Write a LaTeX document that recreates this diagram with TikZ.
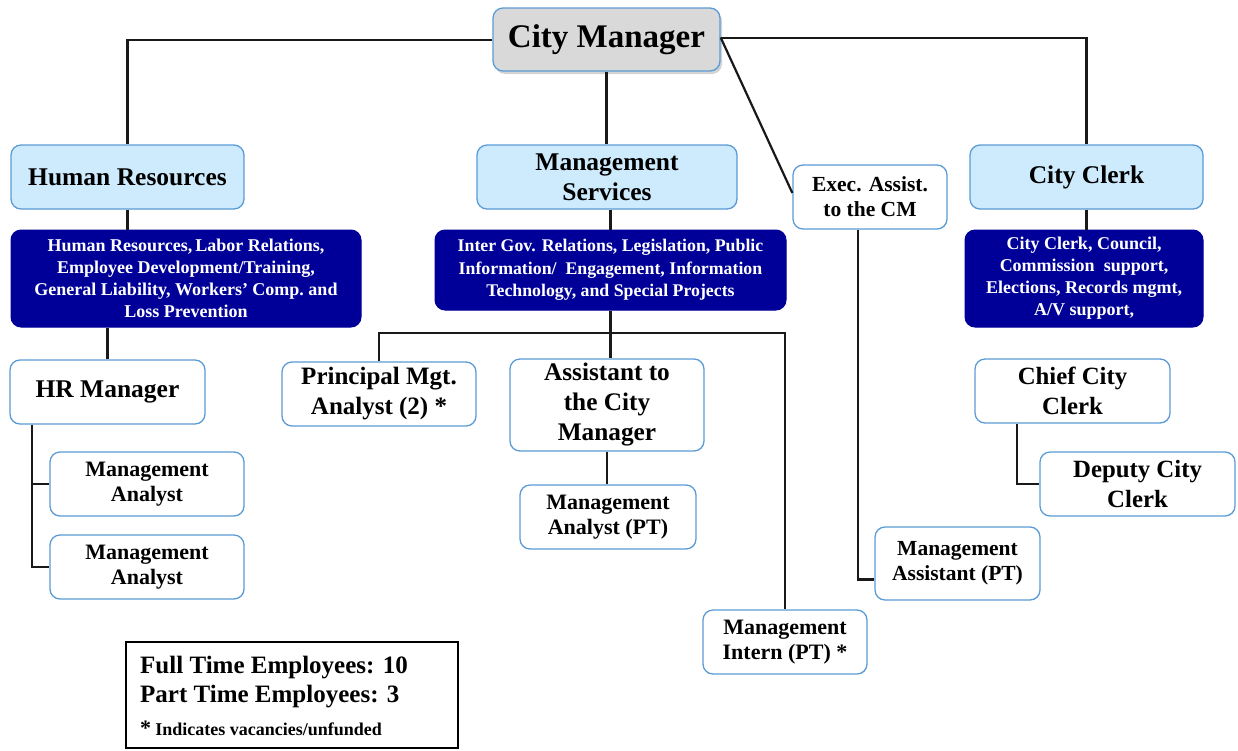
\documentclass[tikz,border=0pt]{standalone}
\usepackage{fontspec}
\setmainfont{Liberation Serif}
\usetikzlibrary{calc,shadows}
\definecolor{bordblue}{HTML}{5B9BD5}
\definecolor{lightfill}{HTML}{CDEBFD}
\definecolor{cmgray}{HTML}{D9D9D9}
\definecolor{navy}{HTML}{000099}
\tikzset{
  base/.style={rounded corners=10, align=center, inner sep=0pt, font=\bfseries},
  wbox/.style={base, draw=bordblue, line width=1.3, fill=white},
  lbox/.style={base, draw=bordblue, line width=1.3, fill=lightfill},
  dbox/.style={base, draw=navy, line width=1, fill=navy, text=white},
  conn/.style={draw=black!90, line width=2.2},
  fs/.style 2 args={font=\bfseries\fontsize{#1}{#2}\selectfont},
}
\begin{document}
\begin{tikzpicture}[x=1pt,y=-1pt]
\useasboundingbox (0,0) rectangle (1238,750);

% top level
\node[base, draw=bordblue, line width=1.3, fill=cmgray, drop shadow={shadow xshift=2pt, shadow yshift=-3pt, opacity=0.35},
      minimum width=227, minimum height=63, fs={33}{36}] (cm) at (606.5,39.5) {City Manager};

% second level
\node[lbox, minimum width=233, minimum height=64, fs={25.5}{30}] (hr) at (127.5,177) {Human Resources};
\node[lbox, minimum width=260, minimum height=64, fs={25.5}{30}] (ms) at (607,177) {Management\\Services};
\node[wbox, minimum width=154, minimum height=64, fs={21.5}{25}] (ea) at (870,197) {Exec. Assist.\\to the CM};
\node[lbox, minimum width=233, minimum height=64, fs={25.5}{30}] (cc) at (1086.5,177) {City Clerk};

% dark boxes
\node[dbox, minimum width=350, minimum height=97, fs={18}{22}] (hrd) at (186,278.5)
  {Human Resources,\,Labor Relations,\\Employee Development/Training,\\General Liability, Workers' Comp.\ and\\Loss Prevention};
\node[dbox, minimum width=351, minimum height=80, fs={17.8}{22.5}] (msd) at (610.5,270)
  {Inter Gov. Relations, Legislation, Public\\Information/\ \ Engagement, Information\\Technology, and Special Projects};
\node[dbox, minimum width=238, minimum height=97, fs={18}{22}] (ccd) at (1084,278.5)
  {City Clerk, Council,\\Commission\ \ support,\\Elections, Records mgmt,\\A/V support,};

% HR branch
\node[wbox, minimum width=195, minimum height=64, fs={25.5}{30}] (hrm) at (107.5,392) {HR Manager};
\node[wbox, minimum width=194, minimum height=64, fs={22}{25}] (ma1) at (147,484) {Management\\Analyst};
\node[wbox, minimum width=194, minimum height=64, fs={22}{25}] (ma2) at (147,567) {Management\\Analyst};

% Management Services branch
\node[wbox, minimum width=194, minimum height=64, fs={25}{30}] (pma) at (379,394) {Principal Mgt.\\Analyst (2) *};
\node[wbox, minimum width=194, minimum height=92, fs={25.3}{30}] (acm) at (607,405) {Assistant to\\the City\\Manager};
\node[wbox, minimum width=176, minimum height=64, fs={22}{25}] (mapt) at (608,517) {Management\\Analyst (PT)};
\node[wbox, minimum width=164, minimum height=64, fs={22}{25}] (mi) at (785,642) {Management\\Intern (PT) *};

% Exec assist branch
\node[wbox, minimum width=165, minimum height=73, fs={21.5}{25}] (mas) at (957.5,563.5) {Management\\Assistant (PT)};

% City Clerk branch
\node[wbox, minimum width=195, minimum height=64, fs={24.8}{30}] (ccc) at (1072.5,391) {Chief City\\Clerk};
\node[wbox, minimum width=195, minimum height=64, fs={24.8}{30}] (dcc) at (1137.5,484) {Deputy City\\Clerk};

% legend
\node[draw=black, line width=2.5, fill=white, minimum width=332, minimum height=106, inner sep=0pt] (leg) at (292,695) {};
\node[anchor=west, align=left, inner sep=0pt, fs={25}{29}] (legt) at (140,696)
  {Full Time Employees: 10\\
   Part Time Employees: 3\\[4pt]
   {\fontsize{22}{20}\selectfont *}\,{\fontsize{18}{20}\selectfont Indicates vacancies/unfunded}};

% connectors
\draw[conn] (cm.west |- 0,40) -| (hr.north);
\draw[conn] (cm.east |- 0,38) -| (cc.north);
\draw[conn] (cm.south) -- (cm.south |- ms.north);
\draw[conn] ($(cm.east)+(0,-2)$) -- ($(ea.west)+(0,-4)$);

\draw[conn] (hr.south) -- (hr.south |- hrd.north);
\draw[conn] (hrm.north) -- (hrm.north |- hrd.south);
\coordinate (hrbus) at ($(hrm.south west)+(23,0)$);
\draw[conn] (hrbus) |- (ma1.west);
\draw[conn] (hrbus) |- (ma2.west);

\draw[conn] (msd.north) -- (msd.north |- ms.south);
\draw[conn] (msd.south) -- (msd.south |- acm.north);
\coordinate (msbus) at (610.5,333);
\draw[conn] (pma.north) |- (msbus) -| (mi.north);
\draw[conn] (acm.south) -- (acm.south |- mapt.north);

\draw[conn] ($(ea.south)+(-12,0)$) |- ($(mas.west)+(0,16)$);

\draw[conn] (cc.south) -- (cc.south |- ccd.north);
\draw[conn] ($(ccc.south west)+(43,0)$) |- (dcc.west);
\end{tikzpicture}
\end{document}
